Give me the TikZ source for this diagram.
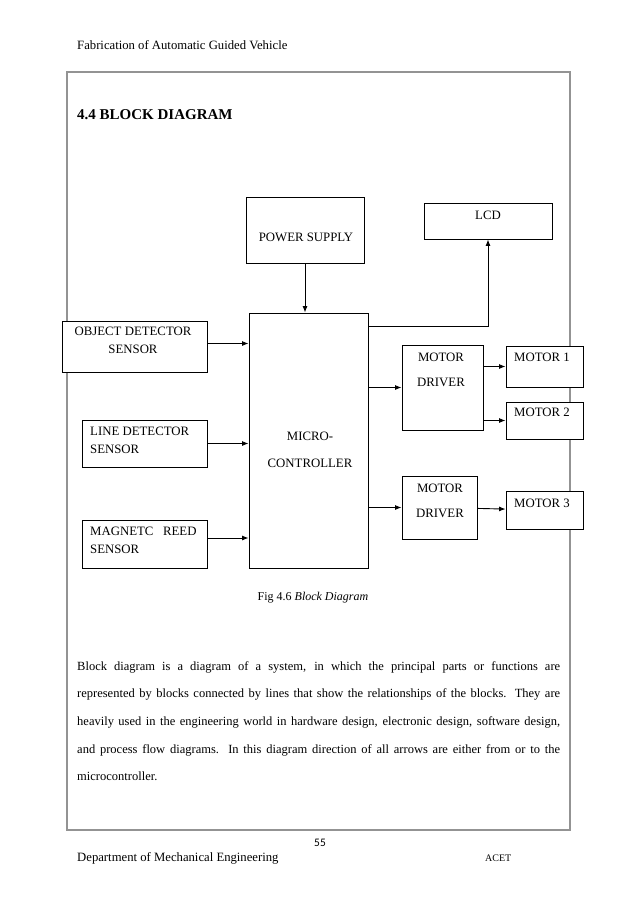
\documentclass[tikz,border=0pt]{standalone}
\usepackage{fontspec}
\setmainfont{Liberation Serif}
\newfontfamily\pagenofont{Carlito}
\usetikzlibrary{arrows.meta}

\tikzset{
  blk/.style={draw, fill=white, line width=0.9pt, inner sep=0pt},
  lbl/.style={inner sep=0pt, font=\fontsize{12.8}{18}\selectfont},
  arr/.style={-{Latex[length=6.5pt,width=5pt]}, line width=0.9pt},
}

\begin{document}
\begin{tikzpicture}[x=1pt,y=-1pt]
\fill[white](0,0) rectangle (638,903);
% page frame
\draw[gray!85, line width=2pt](67,72) rectangle (570,830);
\node[lbl, anchor=west, font=\fontsize{12.7}{15}\selectfont](hdr) at (77,45){Fabrication of Automatic Guided Vehicle};
\node[lbl, anchor=west, font=\fontsize{15}{18}\selectfont\bfseries](ttl) at (77,115){4.4 BLOCK DIAGRAM};

% blocks
\node[blk, minimum width=118pt, minimum height=66pt](ps) at (305,230){};
\node[blk, minimum width=128pt, minimum height=36pt](lcd) at (488,221){};
\node[blk, minimum width=119pt, minimum height=255pt](mc) at (308.5,440.5){};
\node[blk, minimum width=145pt, minimum height=51pt](obj) at (134.5,346.5){};
\node[blk, minimum width=125pt, minimum height=47pt](line) at (144.5,443.5){};
\node[blk, minimum width=125pt, minimum height=48pt](mag) at (144.5,544){};
\node[blk, minimum width=81pt, minimum height=85pt](drvA) at (442.5,387.5){};
\node[blk, minimum width=75pt, minimum height=63pt](drvB) at (439.5,507.5){};
\node[blk, minimum width=77pt, minimum height=41pt](mA) at (544.5,366.5){};
\node[blk, minimum width=77pt, minimum height=37pt](mB) at (544.5,420.5){};
\node[blk, minimum width=77pt, minimum height=38pt](mC) at (544.5,510){};

% block texts
\node[lbl](pstxt) at (306,237){POWER SUPPLY};
\node[lbl](lcdtxt) at (488,215){LCD};
\node[lbl, align=center, font=\fontsize{12.8}{27}\selectfont](mctxt) at (310,449.5){MICRO-\\CONTROLLER};
\node[lbl, align=center](objtxt) at (133,340){OBJECT DETECTOR\\SENSOR};
\node[lbl, align=left, anchor=west](linetxt) at (90,440){LINE DETECTOR\\SENSOR};
\node[lbl, align=left, anchor=west](magtxt) at (90,540){MAGNETC\ \ \ REED\\SENSOR};
\node[lbl, align=center, font=\fontsize{12.8}{25}\selectfont](drvAtxt) at (441,369.5){MOTOR\\DRIVER};
\node[lbl, align=center, font=\fontsize{12.8}{25}\selectfont](drvBtxt) at (440,500.5){MOTOR\\DRIVER};
\node[lbl, anchor=west](mAtxt) at (514,357){MOTOR 1};
\node[lbl, anchor=west](mBtxt) at (514,412){MOTOR 2};
\node[lbl, anchor=west](mCtxt) at (514,503){MOTOR 3};

% connections
\coordinate (objout) at ([yshift=3pt]obj.east);
\coordinate (magout) at ([yshift=6pt]mag.east);
\coordinate (lcdout) at ([yshift=-14pt]mc.north east);
\draw[arr](ps)--(ps|-mc.north);
\draw[arr](lcdout)-|(lcd.south);
\draw[arr](objout)--(objout-|mc.west);
\draw[arr](line)--(line-|mc.west);
\draw[arr](magout)--(magout-|mc.west);
\draw[arr](mc.east|-drvA)--(drvA);
\draw[arr](mc.east|-drvB)--(drvB);
\draw[arr](drvA.east|-mA)--(mA);
\draw[arr](drvA.east|-mB)--(mB);
\draw[arr](drvB)--(mC);

% caption and text
\node[lbl, font=\fontsize{12}{14}\selectfont](cap) at (313,598){Fig 4.6 \textit{Block Diagram}};
\node[anchor=north west, inner sep=0pt, text width=483pt, align=justify, font=\fontsize{12.5}{27.7}\selectfont](para) at (77,661){Block diagram is a diagram of a system, in which the principal parts or functions are\linebreak represented by blocks connected by lines that show the relationships of the blocks. They are\linebreak heavily used in the engineering world in hardware design, electronic design, software design,\linebreak and process flow diagrams. In this diagram direction of all arrows are either from or to the\linebreak microcontroller.};

% footer
\node[lbl, font=\pagenofont\fontsize{11.5}{13}\selectfont](pgno) at (320,843){55};
\node[lbl, anchor=west, font=\fontsize{12.7}{15}\selectfont](dept) at (77,858){Department of Mechanical Engineering};
\node[lbl, anchor=west, font=\fontsize{10}{12}\selectfont](inst) at (485,858){ACET};
\end{tikzpicture}
\end{document}
